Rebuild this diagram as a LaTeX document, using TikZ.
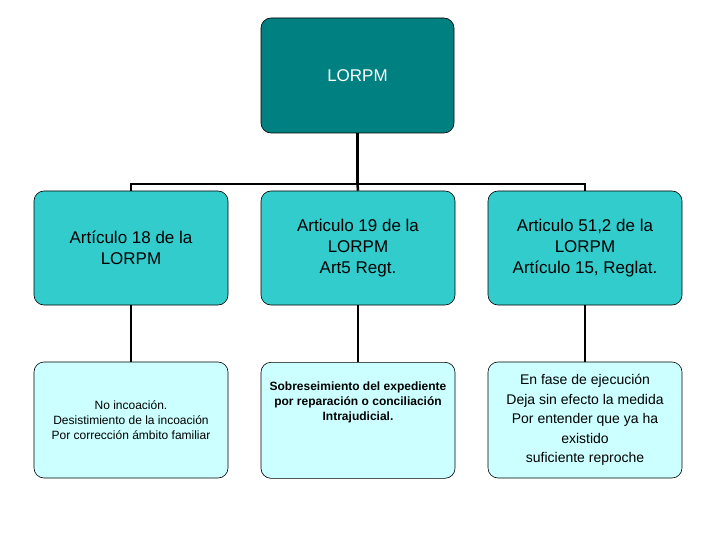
\documentclass[tikz,border=0pt]{standalone}
\usepackage{fontspec}
\setmainfont{Liberation Sans}
\begin{document}
\begin{tikzpicture}[x=1pt,y=-1pt,
 bx/.style={draw=black,rounded corners=10pt,line width=0.6pt,align=center,inner sep=2pt},
 mid/.style={bx,fill=midc,minimum width=194pt,minimum height=114pt,font=\fontsize{17}{21}\selectfont},
 low/.style={bx,fill=lowc,minimum width=194pt,minimum height=116pt},
 conn/.style={line width=2.5pt}]
\definecolor{topc}{RGB}{0,128,128}
\definecolor{midc}{RGB}{51,204,204}
\definecolor{lowc}{RGB}{204,255,255}
\useasboundingbox (0,0) rectangle (720,540);
\node[bx,fill=topc,minimum width=193pt,minimum height=115pt,text=white,font=\fontsize{17}{21}\selectfont] (t) at (357.5,75.5) {LORPM};
\node[mid] (m1) at (131,248) {Artículo 18 de la\\LORPM};
\node[mid] (m2) at (358,248) {Articulo 19 de la\\LORPM\\Art5 Regt.};
\node[mid] (m3) at (585,248) {Articulo 51,2 de la\\LORPM\\Artículo 15, Reglat.};
\node[low,font=\fontsize{12}{15}\selectfont] (l1) at (131,420) {No incoación.\\Desistimiento de la incoación\\Por corrección ámbito familiar};
\node[low,font=\fontsize{12}{15}\selectfont\bfseries,anchor=north,text depth=0pt] (l2) at (358,362) {\\Sobreseimiento del expediente\\por reparación o conciliación\\Intrajudicial.\\[30pt]};
\node[low,font=\fontsize{14}{19.5}\selectfont] (l3) at (585,420) {En fase de ejecución\\Deja sin efecto la medida\\Por entender que ya ha\\existido\\suficiente reproche};
\coordinate (j) at (357.5,184);
\draw[conn] (t.south) -- (j);
\draw[conn] (m1.north) -- (131,184) -- (585,184) -- (m3.north);
\draw[conn] (j) -- (m2.north);
\draw[conn] (m1) -- (l1);
\draw[conn] (m2) -- (l2);
\draw[conn] (m3) -- (l3);
\end{tikzpicture}
\end{document}
